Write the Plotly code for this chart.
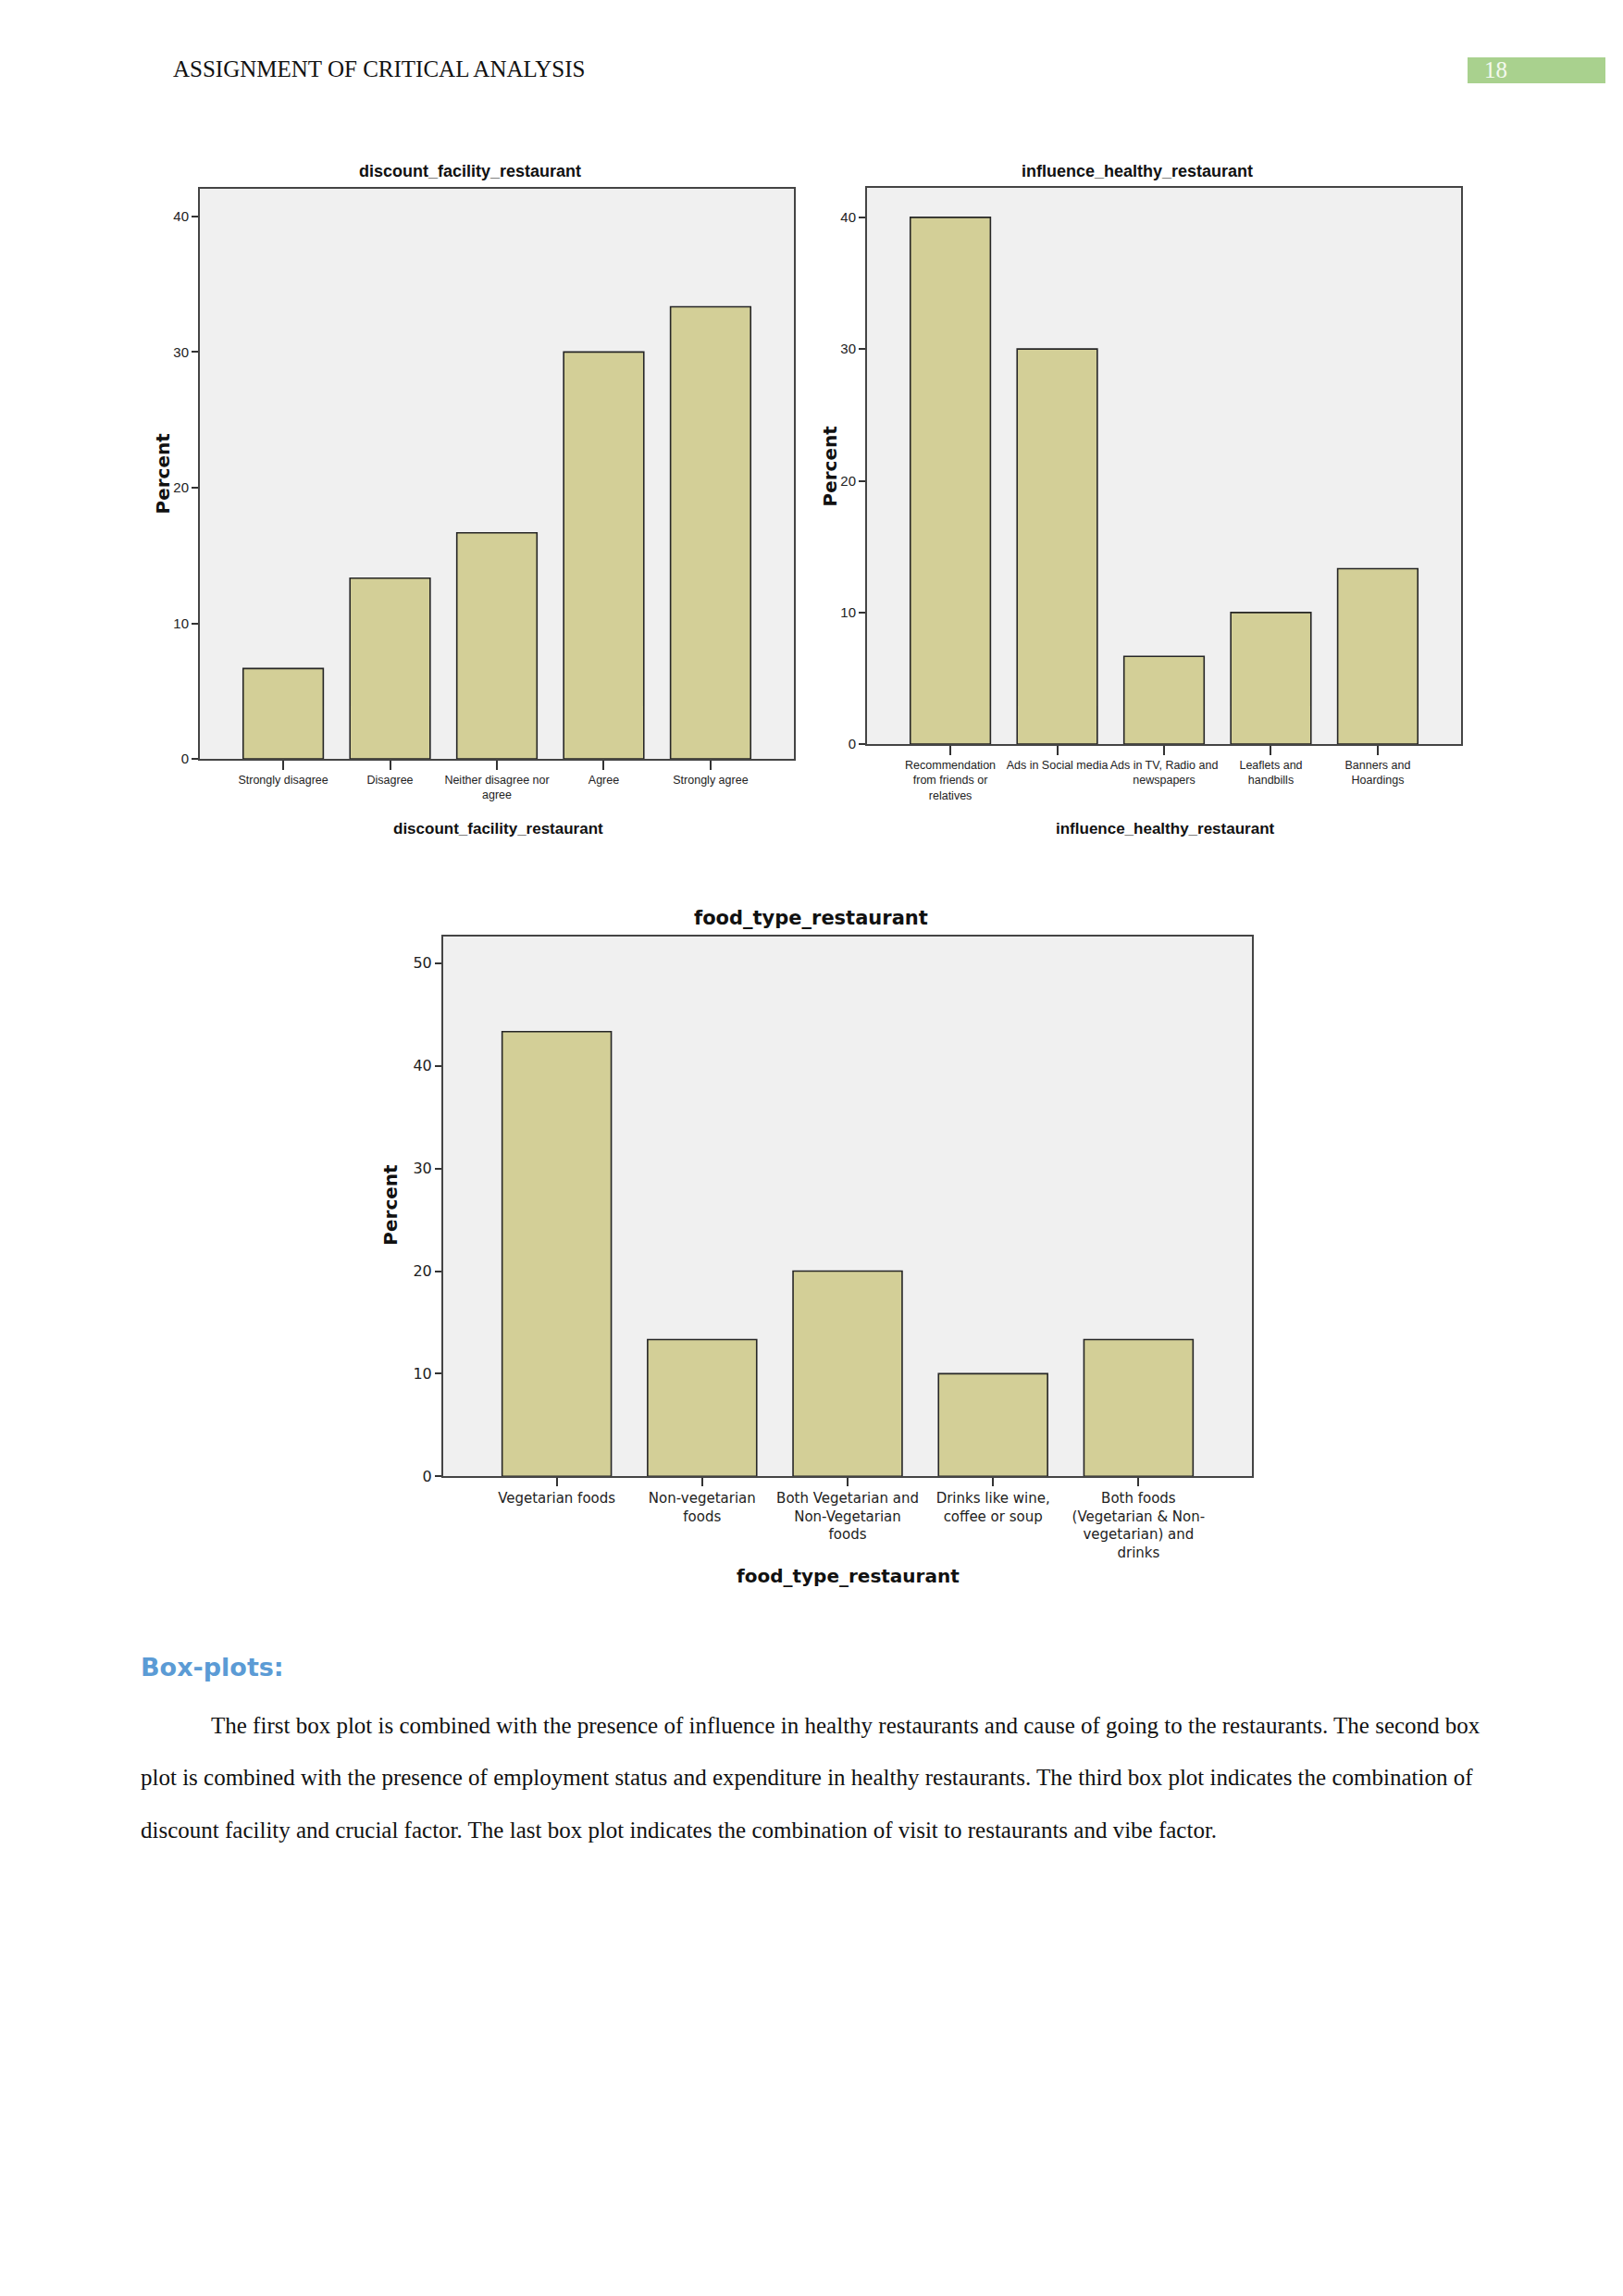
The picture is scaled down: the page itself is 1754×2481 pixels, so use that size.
import plotly.graph_objects as go

W, H = 1754, 2481
BODY = 8  # default page margin of the html body

DISCOUNT_CATS = ['Strongly disagree', 'Disagree', 'Neither disagree nor<br>agree', 'Agree', 'Strongly agree']
DISCOUNT_PCT = [6.67, 13.33, 16.67, 30.0, 33.33]

INFLUENCE_CATS = ['Recommendation<br>from friends or<br>relatives', 'Ads in Social media',
                  'Ads in TV, Radio and<br>newspapers', 'Leaflets and<br>handbills', 'Banners and<br>Hoardings']
INFLUENCE_PCT = [40.0, 30.0, 6.67, 10.0, 13.33]

FOOD_CATS = ['Vegetarian foods', 'Non-vegetarian<br>foods', 'Both Vegetarian and<br>Non-Vegetarian<br>foods',
             'Drinks like wine,<br>coffee or soup', 'Both foods<br>(Vegetarian & Non-<br>vegetarian) and<br>drinks']
FOOD_PCT = [43.33, 13.33, 20.0, 10.0, 13.33]

Y_TICKS_40 = [0, 10, 20, 30, 40]
Y_TICKS_50 = [0, 10, 20, 30, 40, 50]

PARAGRAPH = [
    'The first box plot is combined with the presence of influence in healthy restaurants and cause of going to the restaurants. The second box',
    'plot is combined with the presence of employment status and expenditure in healthy restaurants. The third box plot indicates the combination of',
    'discount facility and crucial factor. The last box plot indicates the combination of visit to restaurants and vibe factor.',
]

BAR_FILL = '#d3cf97'
BAR_EDGE = '#262626'
PLOT_BG = '#f0f0f0'
FRAME = '#444444'
SANS = 'Liberation Sans, Arial, sans-serif'
DEJA = 'DejaVu Sans, Verdana, sans-serif'
SERIF = 'Liberation Serif, Times New Roman, serif'

FW, FH = W - 2 * BODY, H - 2 * BODY


def px_x(x):
    return (x - BODY) / FW


def px_y(y):
    y = y + 1 + 0.003 * y  # small drift seen between page and figure
    return 1 - (y - BODY) / FH


# (x0, x1, ytop, ybottom) in page pixels for each chart's plot area
BOXES = [(216, 858, 203, 820), (937, 1579, 202, 804), (479, 1353, 1012, 1596)]
Y_RANGES = [42.04, 42.25, 52.6]

fig = go.Figure()
charts = [(DISCOUNT_CATS, DISCOUNT_PCT, Y_TICKS_40, SANS, 12.5, 15, 10),
          (INFLUENCE_CATS, INFLUENCE_PCT, Y_TICKS_40, SANS, 12.5, 15, 10),
          (FOOD_CATS, FOOD_PCT, Y_TICKS_50, DEJA, 15, 16, 9)]

for i, (cats, vals, yt, fam, xsize, ysize, tlen) in enumerate(charts):
    n = '' if i == 0 else str(i + 1)
    fig.add_trace(go.Bar(x=list(range(len(cats))), y=vals, width=0.75,
                         marker=dict(color=BAR_FILL, line=dict(color=BAR_EDGE, width=1.6)),
                         xaxis='x' + n, yaxis='y' + n, showlegend=False, hoverinfo='y'))
    x0, x1, yt0, yb0 = BOXES[i]
    fig.layout['xaxis' + n] = dict(domain=[px_x(x0), px_x(x1)], anchor='y' + n,
                                   range=[-0.78, len(cats) - 0.22],
                                   tickvals=list(range(len(cats))), ticktext=cats,
                                   ticks='outside', ticklen=tlen, tickwidth=1.5, tickcolor='#333',
                                   showline=True, mirror=True, linecolor=FRAME, linewidth=2,
                                   showgrid=False, zeroline=False, tickangle=0,
                                   tickfont=dict(family=fam, size=xsize, color='#222'))
    fig.layout['yaxis' + n] = dict(domain=[px_y(yb0), px_y(yt0)], anchor='x' + n,
                                   range=[0, Y_RANGES[i]], tickvals=yt,
                                   ticks='outside', ticklen=7, tickwidth=1.5, tickcolor='#333',
                                   showline=True, mirror=True, linecolor=FRAME, linewidth=2,
                                   showgrid=False, zeroline=False,
                                   tickfont=dict(family=fam if i == 2 else SANS, size=ysize, color='#222'))

anns = []


def add_text(x, y, text, size, family, color='#111', bold=False, xanchor='center', angle=0):
    anns.append(dict(x=px_x(x), y=px_y(y), xref='paper', yref='paper', showarrow=False,
                     text='<b>%s</b>' % text if bold else text, xanchor=xanchor, yanchor='middle',
                     textangle=angle, font=dict(size=size, family=family, color=color)))


# chart titles, axis titles
add_text(508, 184, 'discount_facility_restaurant', 18, SANS, bold=True)
add_text(538, 895, 'discount_facility_restaurant', 17, SANS, bold=True)
add_text(176, 511, 'Percent', 20, DEJA, bold=True, angle=-90)

add_text(1229, 184, 'influence_healthy_restaurant', 18, SANS, bold=True)
add_text(1259, 895, 'influence_healthy_restaurant', 17, SANS, bold=True)
add_text(897, 503, 'Percent', 20, DEJA, bold=True, angle=-90)

add_text(876, 992, 'food_type_restaurant', 21, DEJA, bold=True)
add_text(916, 1704, 'food_type_restaurant', 20, DEJA, bold=True)
add_text(422, 1302, 'Percent', 20, DEJA, bold=True, angle=-90)

# page header
add_text(185, 74, 'ASSIGNMENT OF CRITICAL ANALYSIS', 25, SERIF, xanchor='left')
add_text(1602, 75, '18', 25, SERIF, color='#f4f9ef', xanchor='left')

# body text
add_text(150, 1802, 'Box-plots:', 27, DEJA, color='#5b9bd5', bold=True, xanchor='left')
for j, line in enumerate(PARAGRAPH):
    add_text(226 if j == 0 else 150, 1865 + 57 * j, line, 25, SERIF, xanchor='left')

fig.update_layout(
    width=FW, height=FH, margin=dict(l=0, r=0, t=0, b=0),
    paper_bgcolor='white', plot_bgcolor=PLOT_BG,
    annotations=anns,
    shapes=[dict(type='rect', xref='paper', yref='paper', x0=px_x(1586), x1=px_x(1735),
                 y0=px_y(89), y1=px_y(61), fillcolor='#a9d18e', line=dict(width=0), layer='below')],
)

fig.write_html("out.html")
